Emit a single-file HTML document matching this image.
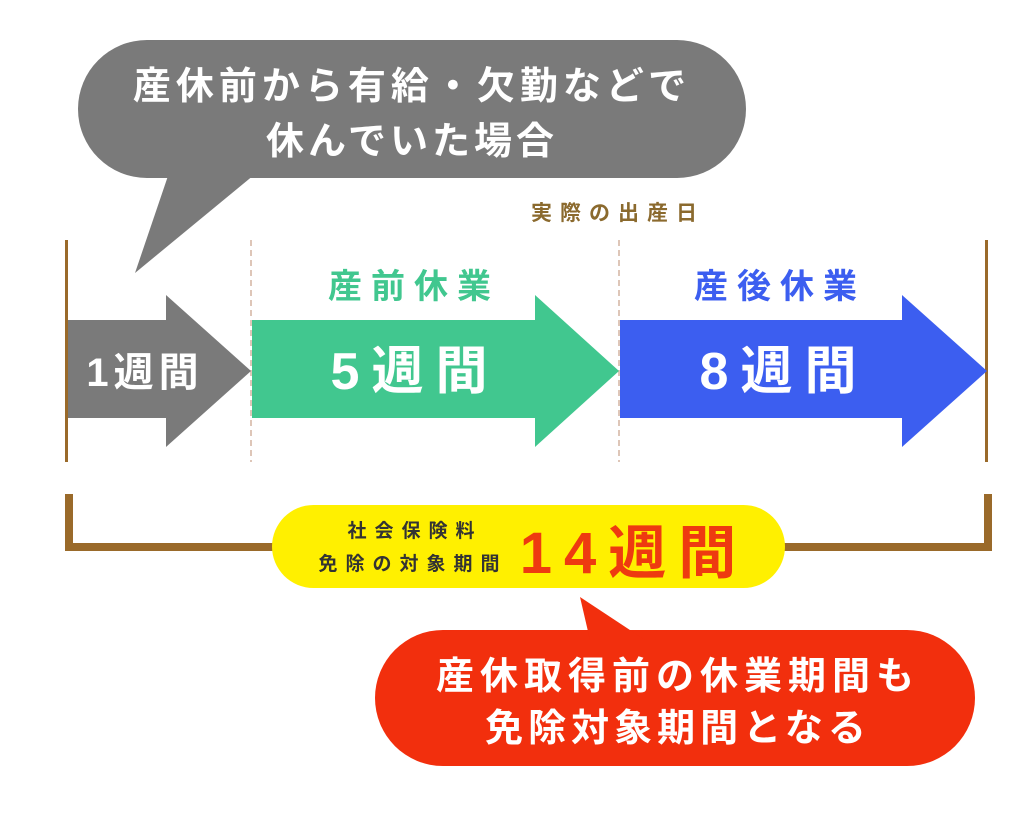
<!DOCTYPE html>
<html><head><meta charset="utf-8"><style>
html,body{margin:0;padding:0;background:#fff;}
svg{display:block;}
text{font-family:"Liberation Sans","Noto Sans CJK JP",sans-serif;font-weight:bold;}
</style></head><body>
<svg width="1024" height="814" viewBox="0 0 1024 814">
<rect x="78" y="40" width="668" height="138" rx="69" fill="#7a7a7a"/>
<polygon points="170,170 260,170 135,273" fill="#7a7a7a"/>
<text x="412" y="99" font-size="38" fill="#fff" text-anchor="middle" letter-spacing="5">産休前から有給・欠勤などで</text>
<text x="412" y="154" font-size="38" fill="#fff" text-anchor="middle" letter-spacing="4">休んでいた場合</text>
<text x="618" y="220" font-size="21" fill="#8b6a2e" text-anchor="middle" letter-spacing="8">実際の出産日</text>
<rect x="65" y="240" width="3" height="222" fill="#9a6a2a"/>
<rect x="985" y="240" width="3" height="222" fill="#9a6a2a"/>
<line x1="251" y1="240" x2="251" y2="462" stroke="#d4b4a0" stroke-width="1.5" stroke-dasharray="6,4"/>
<line x1="619" y1="240" x2="619" y2="462" stroke="#d4b4a0" stroke-width="1.5" stroke-dasharray="6,4"/>
<polygon points="68,320 166,320 166,295 251,371 166,447 166,418 68,418" fill="#7a7a7a"/>
<polygon points="252,320 535,320 535,295 619,371 535,447 535,418 252,418" fill="#41c78f"/>
<polygon points="620,320 902,320 902,295 987,371 902,447 902,418 620,418" fill="#3c5ef0"/>
<text x="145" y="386" font-size="40" fill="#fff" text-anchor="middle" letter-spacing="5">1週間</text>
<text x="415" y="389" font-size="52" fill="#fff" text-anchor="middle" letter-spacing="12">5週間</text>
<text x="784" y="389" font-size="52" fill="#fff" text-anchor="middle" letter-spacing="12">8週間</text>
<text x="414" y="298" font-size="34" fill="#41c78f" text-anchor="middle" letter-spacing="9">産前休業</text>
<text x="780" y="298" font-size="34" fill="#3c5ef0" text-anchor="middle" letter-spacing="9">産後休業</text>
<path d="M69,494 V547 H988 V494" fill="none" stroke="#9a6a2a" stroke-width="8"/>
<rect x="272" y="505" width="513" height="83" rx="41.5" fill="#fff000"/>
<text x="415" y="537" font-size="19" fill="#333" text-anchor="middle" letter-spacing="8">社会保険料</text>
<text x="413" y="570" font-size="19" fill="#333" text-anchor="middle" letter-spacing="8">免除の対象期間</text>
<text x="634" y="573" font-size="58" fill="#ee3a10" text-anchor="middle" letter-spacing="12">14週間</text>
<rect x="375" y="630" width="600" height="136" rx="68" fill="#f22f0d"/>
<polygon points="580,597 590,640 645,640" fill="#f22f0d"/>
<text x="678" y="689" font-size="38" fill="#fff" text-anchor="middle" letter-spacing="6">産休取得前の休業期間も</text>
<text x="678" y="741" font-size="38" fill="#fff" text-anchor="middle" letter-spacing="5">免除対象期間となる</text>
</svg>
</body></html>
